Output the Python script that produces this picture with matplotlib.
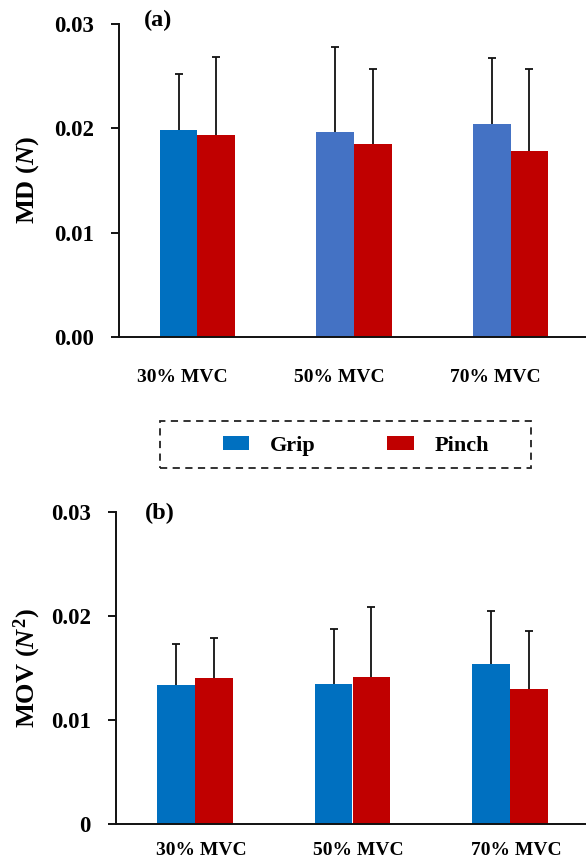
import matplotlib
matplotlib.use("Agg")
import matplotlib.pyplot as plt
import matplotlib.transforms as mtransforms
from matplotlib.patches import Rectangle
import numpy as np

plt.rcParams['font.family'] = ['Liberation Serif', 'DejaVu Serif']
plt.rcParams['font.weight'] = 'bold'
plt.rcParams['mathtext.fontset'] = 'custom'
plt.rcParams['mathtext.rm'] = 'Liberation Serif:bold'
plt.rcParams['mathtext.it'] = 'Liberation Serif:italic:bold'
plt.rcParams['mathtext.bf'] = 'Liberation Serif:bold'

categories = ["30% MVC", "50% MVC", "70% MVC"]
series = ["Grip", "Pinch"]

md_grip = [0.01985, 0.01969, 0.02045]
md_grip_err = [0.00535, 0.00811, 0.00627]
md_pinch = [0.01932, 0.01847, 0.01786]
md_pinch_err = [0.00748, 0.00720, 0.00784]

mov_grip = [0.01338, 0.01344, 0.01543]
mov_grip_err = [0.00388, 0.00533, 0.00507]
mov_pinch = [0.01402, 0.01412, 0.01302]
mov_pinch_err = [0.00391, 0.00673, 0.00549]

md_ticks = [0.00, 0.01, 0.02, 0.03]
md_ticklabels = ["0.00", "0.01", "0.02", "0.03"]
mov_ticks = [0, 0.01, 0.02, 0.03]
mov_ticklabels = ["0", "0.01", "0.02", "0.03"]

blue = "#0070C0"
blue2 = "#4472C4"
red = "#C00000"
md_grip_colors = [blue, blue2, blue2]

W, H = 586, 860
fig = plt.figure(figsize=(W / 100, H / 100), dpi=100)


def px_axes(left, right, top, bottom):
    return fig.add_axes([left / W, 1 - bottom / H, (right - left) / W, (bottom - top) / H])


ax_a = px_axes(119, 589, 24, 337)
ax_b = px_axes(116, 589, 512, 824)

bw = 0.24
x = np.arange(len(categories))


def draw(ax, g, ge, p, pe, gcolors, ticks, ticklabels, label_dx, label_pad, ylabel):
    bg = ax.bar(x - bw / 2, g, bw, color=gcolors, label=series[0], zorder=2)
    bp = ax.bar(x + bw / 2, p, bw, color=red, label=series[1], zorder=2)
    for xs, vals, errs in ((x - bw / 2, g, ge), (x + bw / 2, p, pe)):
        _, caps, _ = ax.errorbar(xs, vals, yerr=[np.zeros(len(vals)), errs], fmt='none',
                                 ecolor='#111111', elinewidth=1.3, capsize=3.2,
                                 capthick=1.3, zorder=3)
        for c in caps:
            if np.allclose(c.get_ydata(), vals):
                c.set_visible(False)
    ax.set_xlim(-0.5, 2.5)
    ax.set_ylim(0, 0.03)
    ax.set_yticks(ticks)
    ax.set_yticklabels(ticklabels, fontsize=16.5, fontweight='bold')
    ax.set_xticks(x)
    ax.set_xticklabels(categories, fontsize=14, fontweight='bold')
    ax.tick_params(axis='x', length=0, pad=label_pad)
    ax.tick_params(axis='y', direction='out', length=6, width=1.3, pad=12)
    offset = mtransforms.ScaledTranslation(label_dx / 100, 0, fig.dpi_scale_trans)
    for lab in ax.get_xticklabels():
        lab.set_transform(lab.get_transform() + offset)
    for s in ('top', 'right'):
        ax.spines[s].set_visible(False)
    for s in ('left', 'bottom'):
        ax.spines[s].set_linewidth(1.4)
        ax.spines[s].set_color('#111111')
    ax.set_ylabel(ylabel, fontsize=19, fontweight='bold')
    return bg, bp


draw(ax_a, md_grip, md_grip_err, md_pinch, md_pinch_err, md_grip_colors,
     md_ticks, md_ticklabels, -15, 23, r"MD ($\it{N}$)")
hg, hp = draw(ax_b, mov_grip, mov_grip_err, mov_pinch, mov_pinch_err, blue,
              mov_ticks, mov_ticklabels, 6, 13, r"MOV ($\it{N}^{2}$)")

ax_a.yaxis.set_label_coords(-0.165, 0.5)
ax_b.yaxis.set_label_coords(-0.155, 0.5)

fig.text(158 / W, 1 - 20 / H, "(a)", fontsize=17.5, fontweight='bold', ha='center', va='center')
fig.text(160 / W, 1 - 513 / H, "(b)", fontsize=17.5, fontweight='bold', ha='center', va='center')

# legend box
fig.patches.append(Rectangle((160 / W, 1 - 468 / H), (531 - 160) / W, (468 - 421) / H,
                             transform=fig.transFigure, fill=False, linestyle=(0, (4, 3)),
                             linewidth=1.3, edgecolor='#222222'))
leg = fig.legend([hg[0], hp[0]], series, loc='center', bbox_to_anchor=(356 / W, 1 - 446 / H),
                 ncol=2, frameon=False, prop={'family': 'Liberation Serif', 'weight': 'bold', 'size': 16},
                 handlelength=1.2, handleheight=0.62, handletextpad=0.95, columnspacing=3.2)

fig.savefig("out.png", dpi=100)
